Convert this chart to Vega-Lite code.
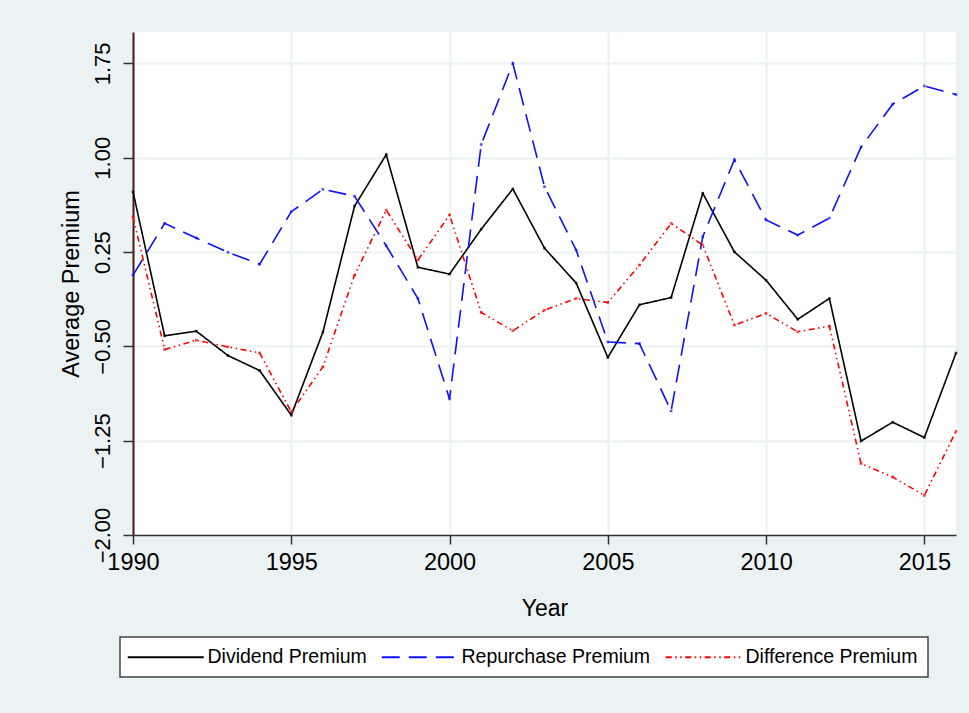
{
  "$schema": "https://vega.github.io/schema/vega-lite/v6.json",
  "width": 823,
  "height": 503,
  "autosize": {"type": "none"},
  "padding": {"left": 133, "top": 32, "right": 13, "bottom": 178},
  "background": "#EAF2F3",
  "config": {
    "view": {"fill": "white", "stroke": null},
    "font": "Liberation Sans",
    "axis": {"labelColor": "black", "titleColor": "black", "titleFontWeight": "normal", "gridColor": "#EAF2F3", "gridWidth": 2},
    "legend": {"strokeWidth": 1.5}
  },
  "data": {"values": [
    {"year": 1990, "series": "Dividend Premium", "value": 0.73},
    {"year": 1991, "series": "Dividend Premium", "value": -0.416},
    {"year": 1992, "series": "Dividend Premium", "value": -0.379},
    {"year": 1993, "series": "Dividend Premium", "value": -0.573},
    {"year": 1994, "series": "Dividend Premium", "value": -0.692},
    {"year": 1995, "series": "Dividend Premium", "value": -1.047},
    {"year": 1996, "series": "Dividend Premium", "value": -0.386},
    {"year": 1997, "series": "Dividend Premium", "value": 0.616},
    {"year": 1998, "series": "Dividend Premium", "value": 1.025},
    {"year": 1999, "series": "Dividend Premium", "value": 0.129},
    {"year": 2000, "series": "Dividend Premium", "value": 0.075},
    {"year": 2001, "series": "Dividend Premium", "value": 0.432},
    {"year": 2002, "series": "Dividend Premium", "value": 0.752},
    {"year": 2003, "series": "Dividend Premium", "value": 0.281},
    {"year": 2004, "series": "Dividend Premium", "value": 0.004},
    {"year": 2005, "series": "Dividend Premium", "value": -0.588},
    {"year": 2006, "series": "Dividend Premium", "value": -0.169},
    {"year": 2007, "series": "Dividend Premium", "value": -0.112},
    {"year": 2008, "series": "Dividend Premium", "value": 0.717},
    {"year": 2009, "series": "Dividend Premium", "value": 0.251},
    {"year": 2010, "series": "Dividend Premium", "value": 0.026},
    {"year": 2011, "series": "Dividend Premium", "value": -0.285},
    {"year": 2012, "series": "Dividend Premium", "value": -0.119},
    {"year": 2013, "series": "Dividend Premium", "value": -1.253},
    {"year": 2014, "series": "Dividend Premium", "value": -1.103},
    {"year": 2015, "series": "Dividend Premium", "value": -1.225},
    {"year": 2016, "series": "Dividend Premium", "value": -0.553},
    {"year": 1990, "series": "Repurchase Premium", "value": 0.067},
    {"year": 1991, "series": "Repurchase Premium", "value": 0.478},
    {"year": 1992, "series": "Repurchase Premium", "value": 0.362},
    {"year": 1993, "series": "Repurchase Premium", "value": 0.248},
    {"year": 1994, "series": "Repurchase Premium", "value": 0.153},
    {"year": 1995, "series": "Repurchase Premium", "value": 0.571},
    {"year": 1996, "series": "Repurchase Premium", "value": 0.749},
    {"year": 1997, "series": "Repurchase Premium", "value": 0.694},
    {"year": 1998, "series": "Repurchase Premium", "value": 0.3},
    {"year": 1999, "series": "Repurchase Premium", "value": -0.119},
    {"year": 2000, "series": "Repurchase Premium", "value": -0.918},
    {"year": 2001, "series": "Repurchase Premium", "value": 1.105},
    {"year": 2002, "series": "Repurchase Premium", "value": 1.75},
    {"year": 2003, "series": "Repurchase Premium", "value": 0.77},
    {"year": 2004, "series": "Repurchase Premium", "value": 0.266},
    {"year": 2005, "series": "Repurchase Premium", "value": -0.465},
    {"year": 2006, "series": "Repurchase Premium", "value": -0.478},
    {"year": 2007, "series": "Repurchase Premium", "value": -1.013},
    {"year": 2008, "series": "Repurchase Premium", "value": 0.372},
    {"year": 2009, "series": "Repurchase Premium", "value": 0.985},
    {"year": 2010, "series": "Repurchase Premium", "value": 0.505},
    {"year": 2011, "series": "Repurchase Premium", "value": 0.385},
    {"year": 2012, "series": "Repurchase Premium", "value": 0.52},
    {"year": 2013, "series": "Repurchase Premium", "value": 1.085},
    {"year": 2014, "series": "Repurchase Premium", "value": 1.426},
    {"year": 2015, "series": "Repurchase Premium", "value": 1.571},
    {"year": 2016, "series": "Repurchase Premium", "value": 1.503},
    {"year": 1990, "series": "Difference Premium", "value": 0.53},
    {"year": 1991, "series": "Difference Premium", "value": -0.525},
    {"year": 1992, "series": "Difference Premium", "value": -0.451},
    {"year": 1993, "series": "Difference Premium", "value": -0.504},
    {"year": 1994, "series": "Difference Premium", "value": -0.552},
    {"year": 1995, "series": "Difference Premium", "value": -1.021},
    {"year": 1996, "series": "Difference Premium", "value": -0.663},
    {"year": 1997, "series": "Difference Premium", "value": 0.067},
    {"year": 1998, "series": "Difference Premium", "value": 0.584},
    {"year": 1999, "series": "Difference Premium", "value": 0.186},
    {"year": 2000, "series": "Difference Premium", "value": 0.545},
    {"year": 2001, "series": "Difference Premium", "value": -0.23},
    {"year": 2002, "series": "Difference Premium", "value": -0.376},
    {"year": 2003, "series": "Difference Premium", "value": -0.212},
    {"year": 2004, "series": "Difference Premium", "value": -0.119},
    {"year": 2005, "series": "Difference Premium", "value": -0.151},
    {"year": 2006, "series": "Difference Premium", "value": 0.146},
    {"year": 2007, "series": "Difference Premium", "value": 0.478},
    {"year": 2008, "series": "Difference Premium", "value": 0.306},
    {"year": 2009, "series": "Difference Premium", "value": -0.331},
    {"year": 2010, "series": "Difference Premium", "value": -0.238},
    {"year": 2011, "series": "Difference Premium", "value": -0.384},
    {"year": 2012, "series": "Difference Premium", "value": -0.339},
    {"year": 2013, "series": "Difference Premium", "value": -1.432},
    {"year": 2014, "series": "Difference Premium", "value": -1.539},
    {"year": 2015, "series": "Difference Premium", "value": -1.685},
    {"year": 2016, "series": "Difference Premium", "value": -1.175}
  ]},
  "encoding": {
    "x": {
      "field": "year", "type": "quantitative",
      "scale": {"domain": [1990, 2016], "nice": false, "zero": false},
      "axis": {
        "title": "Year", "values": [1990, 1995, 2000, 2005, 2010, 2015], "format": "d",
        "labelFontSize": 23.5, "titleFontSize": 23, "labelPadding": 6, "titlePadding": 24,
        "tickSize": 9, "tickWidth": 1.5, "tickColor": "#333", "domainColor": "#333", "domainWidth": 1.5,
        "labelFlush": false, "labelOverlap": false
      }
    },
    "y": {
      "field": "value", "type": "quantitative",
      "scale": {"domain": [-2, 2], "nice": false, "zero": false},
      "axis": {
        "title": "Average Premium", "values": [-2, -1.25, -0.5, 0.25, 1, 1.75], "format": ".2f",
        "labelAngle": -90, "labelAlign": "center", "labelBaseline": "bottom",
        "labelFontSize": 22, "titleFontSize": 23.5, "labelPadding": 9, "titlePadding": 8,
        "tickSize": 10, "tickWidth": 1.5, "tickColor": "#333", "domainColor": "#4a1818", "domainWidth": 2,
        "labelFlush": false, "labelOverlap": false
      }
    }
  },
  "layer": [
    {
      "mark": {"type": "line", "strokeWidth": 1.6, "strokeJoin": "miter"},
      "encoding": {
        "color": {
          "field": "series", "type": "nominal",
          "scale": {"domain": ["Dividend Premium", "Repurchase Premium", "Difference Premium"], "range": ["#000000", "#1010FF", "#FF0000"]},
          "legend": {
            "title": null, "orient": "none", "legendX": -13, "legendY": 605, "direction": "horizontal",
            "symbolType": "M-3,0H16", "symbolSize": 64, "symbolStrokeWidth": 2, "labelOffset": 58,
            "labelFontSize": 19.5, "labelColor": "black", "columnPadding": 10, "padding": 10,
            "strokeColor": "#444", "fillColor": "white", "labelLimit": 400
          }
        },
        "strokeDash": {
          "field": "series", "type": "nominal",
          "scale": {"domain": ["Dividend Premium", "Repurchase Premium", "Difference Premium"], "range": [[1, 0], [18, 9], [6, 3.5, 1.5, 3.5, 1.5, 3.5]]},
          "legend": {
            "title": null, "orient": "none", "legendX": -13, "legendY": 605, "direction": "horizontal",
            "symbolType": "M-3,0H16", "symbolSize": 64, "symbolStrokeWidth": 2, "labelOffset": 58,
            "labelFontSize": 19.5, "labelColor": "black", "columnPadding": 10, "padding": 10,
            "strokeColor": "#444", "fillColor": "white", "labelLimit": 400
          }
        },
        "strokeWidth": {"condition": {"test": "datum.series === 'Difference Premium'", "value": 2.5}, "value": 1.6}
      }
    },
    {
      "mark": {"type": "square", "size": 7, "filled": true},
      "encoding": {
        "fill": {
          "field": "series", "type": "nominal",
          "scale": {"domain": ["Dividend Premium", "Repurchase Premium", "Difference Premium"], "range": ["#000000", "#1010FF", "#FF0000"]},
          "legend": null
        }
      }
    }
  ]
}
